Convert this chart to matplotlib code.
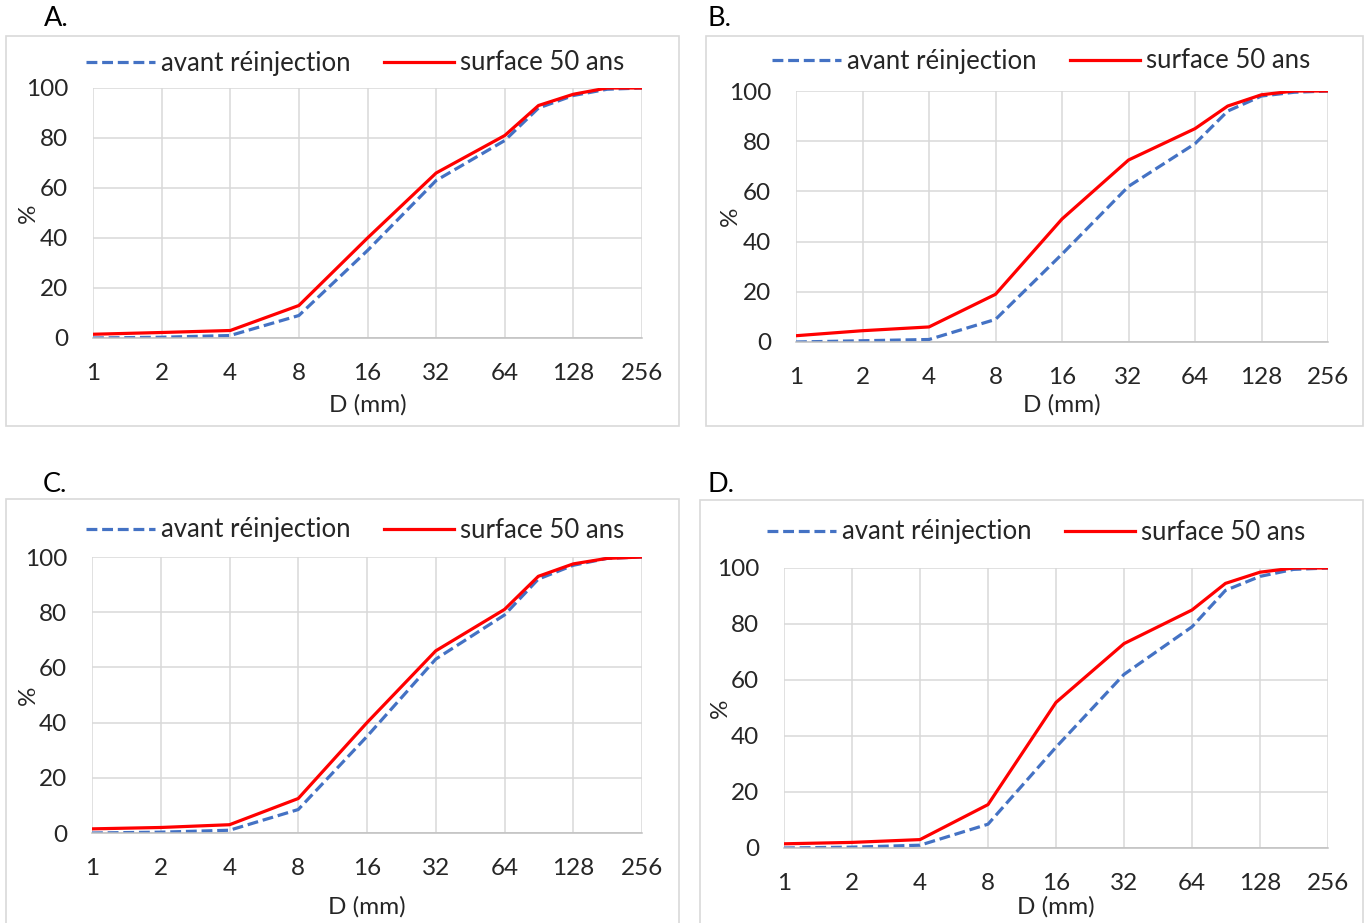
import matplotlib.pyplot as plt
from matplotlib.patches import Rectangle
from matplotlib.ticker import FixedLocator, FixedFormatter, NullLocator

plt.rcParams['font.family'] = ['Lato', 'DejaVu Sans']

# grain sizes (mm)
diam = [1, 2, 4, 8, 16, 32, 64, 90, 128, 180, 256]

# cumulative % passing, per panel
avant_A = [0, 0.3, 1, 9, 35, 63, 79, 92, 97, 99.5, 100]
surf_A = [1.5, 2.2, 3, 13, 40, 66, 81, 93, 97.5, 100, 100]

avant_B = [0, 0.5, 1, 9, 35, 62, 79, 92, 98, 99.5, 100]
surf_B = [2.5, 4.5, 6, 19, 49, 72.5, 85, 94, 98.5, 100, 100]

avant_C = [0, 0.3, 1, 8.5, 35, 63, 79, 92, 97, 99.5, 100]
surf_C = [1.5, 2, 3, 12.5, 40, 66, 81, 93, 97.5, 99.5, 100]

avant_D = [0, 0.3, 1, 8.5, 36, 62, 79, 92, 97, 99.5, 100]
surf_D = [1.5, 2, 3, 15.5, 52, 73, 85, 94.5, 98.5, 100, 100]

panel_letters = ["A.", "B.", "C.", "D."]
xticks = [1, 2, 4, 8, 16, 32, 64, 128, 256]
yticks = [0, 20, 40, 60, 80, 100]

W, H = 1365, 923
fig = plt.figure(figsize=(W / 100, H / 100), dpi=100)

TXT = "#262626"
GRID = "#d9d9d9"
FS = 17.5
FS_LEG = 18.5

# layout in pixels: plot area (left, top, right, bottom), outer box, legend center, letter pos, labels
layout = [
    dict(plot=(93, 88, 642, 338), box=(6, 36, 679, 426), leg=(355, 63), letter=(44, 18), xlab=405, ylab=(28, 213)),
    dict(plot=(796, 91, 1328, 342), box=(706, 36, 1363, 426), leg=(1041, 61), letter=(707, 18), xlab=405, ylab=(730, 216)),
    dict(plot=(92, 557, 642, 833), box=(6, 499, 679, 930), leg=(355, 530), letter=(43, 484), xlab=907, ylab=(28, 695)),
    dict(plot=(784, 568, 1328, 848), box=(700, 500, 1363, 930), leg=(1036, 532), letter=(707, 484), xlab=907, ylab=(720, 708)),
]
series = [(avant_A, surf_A), (avant_B, surf_B), (avant_C, surf_C), (avant_D, surf_D)]

for lay, (avant, surf), letter in zip(layout, series, panel_letters):
    l, t, r, b = lay["plot"]
    bl, bt, br, bb = lay["box"]
    fig.patches.append(Rectangle((bl / W, 1 - bb / H), (br - bl) / W, (bb - bt) / H,
                                 transform=fig.transFigure, fill=False, edgecolor=GRID, lw=1.2))
    fig.text(lay["letter"][0] / W, 1 - lay["letter"][1] / H, letter, fontsize=19.5,
             color="black", ha="left", va="center")

    ax = fig.add_axes([l / W, 1 - b / H, (r - l) / W, (b - t) / H])
    ax.plot(diam, avant, color="#4472C4", lw=2.3, linestyle=(0, (3.4, 1.5)), label="avant réinjection")
    ax.plot(diam, surf, color="#FF0000", lw=2.3, label="surface 50 ans")

    ax.set_xscale("log", base=2)
    ax.set_xlim(1, 256)
    ax.set_ylim(0, 100)
    ax.xaxis.set_major_locator(FixedLocator(xticks))
    ax.xaxis.set_major_formatter(FixedFormatter([str(v) for v in xticks]))
    ax.xaxis.set_minor_locator(NullLocator())
    ax.set_yticks(yticks)
    ax.grid(True, color=GRID, lw=1.1)
    ax.set_axisbelow(True)
    for s in ["top", "right", "left"]:
        ax.spines[s].set_visible(False)
    ax.spines["bottom"].set_color("#bfbfbf")
    ax.spines["bottom"].set_linewidth(1.1)
    ax.tick_params(axis="both", length=0, labelsize=FS, labelcolor=TXT)
    ax.tick_params(axis="x", pad=18)
    ax.tick_params(axis="y", pad=18)

    ax.set_xlabel("D (mm)", fontsize=FS, color=TXT)
    ax.xaxis.set_label_coords(0.5, (b - lay["xlab"]) / (b - t))
    ax.xaxis.label.set_va("center")
    ax.set_ylabel("%", fontsize=FS, color=TXT)
    ax.yaxis.set_label_coords((lay["ylab"][0] - l) / (r - l), (b - lay["ylab"][1]) / (b - t))
    ax.yaxis.label.set_va("center")

    ax.legend(loc="center", bbox_to_anchor=(lay["leg"][0] / W, 1 - lay["leg"][1] / H),
              bbox_transform=fig.transFigure, ncol=2, frameon=False, fontsize=FS_LEG,
              handlelength=2.7, handletextpad=0.25, columnspacing=1.3, labelcolor=TXT)

fig.savefig("out.png", dpi=100, facecolor="white")
